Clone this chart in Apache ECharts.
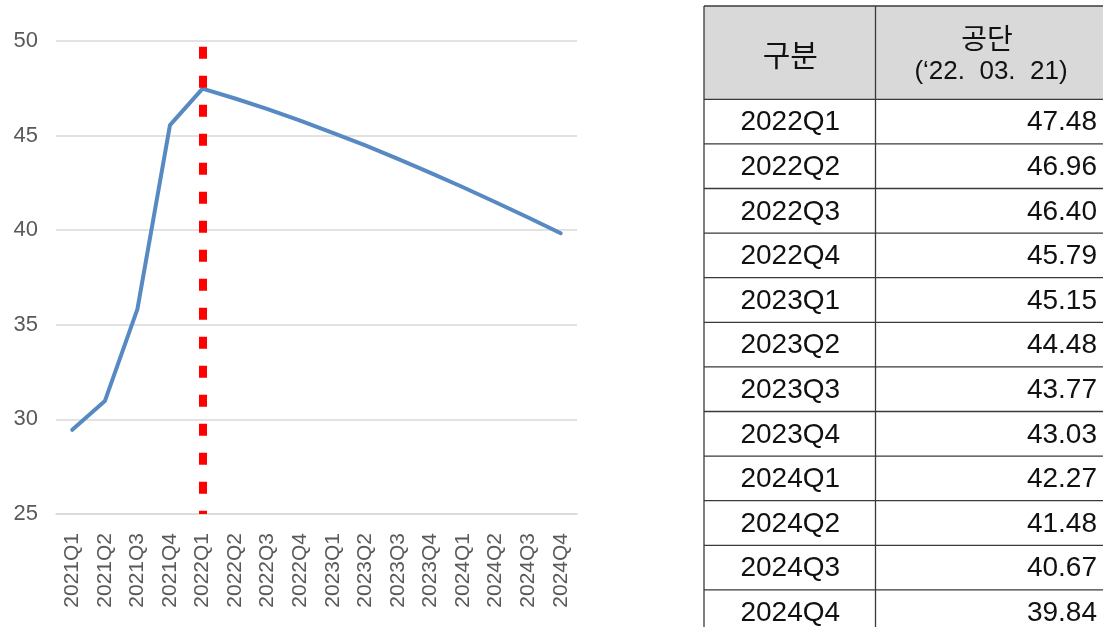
<!DOCTYPE html>
<html>
<head>
<meta charset="utf-8">
<script src="https://cdn.jsdelivr.net/npm/echarts@6/dist/echarts.min.js"></script>
<style>
  html, body { margin: 0; padding: 0; background: #ffffff; }
  #chart { width: 1103px; height: 627px; }
</style>
</head>
<body>
<div id="chart"></div>
<script>
// Quarterly index: actual values for 2021, projection from 2022Q1
const quarters = ['2021Q1','2021Q2','2021Q3','2021Q4','2022Q1','2022Q2','2022Q3','2022Q4',
                  '2023Q1','2023Q2','2023Q3','2023Q4','2024Q1','2024Q2','2024Q3','2024Q4'];
const values = [29.45, 30.97, 35.83, 45.55, 47.48, 46.96, 46.40, 45.79,
                45.15, 44.48, 43.77, 43.03, 42.27, 41.48, 40.67, 39.84];
const yTicks = { min: 25, max: 50, step: 5 };

// Start of the projection period, marked with a dashed line
const markerQuarter = '2022Q1';
const markerTop = 49.7;

// Table: projection rows
const tableHeader = ['구분', '공단', '(‘22.  03.  21)'];
const tableQuarters = ['2022Q1','2022Q2','2022Q3','2022Q4','2023Q1','2023Q2',
                       '2023Q3','2023Q4','2024Q1','2024Q2','2024Q3','2024Q4'];
const tableValues = ['47.48','46.96','46.40','45.79','45.15','44.48',
                     '43.77','43.03','42.27','41.48','40.67','39.84'];

// ---- table layout ----
const T = { left: 704, split: 875.5, right: 1104, top: 6, headBottom: 99.3, rowH: 44.6 };
const lineColor = '#3a3a3a';
const tableGraphics = [];

// header background
tableGraphics.push({
  type: 'rect', silent: true,
  shape: { x: T.left, y: T.top, width: T.right - T.left, height: T.headBottom - T.top },
  style: { fill: '#d9d9d9' }
});
const nRows = tableQuarters.length;
const bottom = T.headBottom + nRows * T.rowH;
// horizontal rules
const hLines = [T.top, T.headBottom];
for (let i = 1; i <= nRows; i++) hLines.push(T.headBottom + i * T.rowH);
hLines.forEach(function (y) {
  tableGraphics.push({
    type: 'line', silent: true,
    shape: { x1: T.left, y1: y, x2: T.right, y2: y },
    style: { stroke: lineColor, lineWidth: 1.3 }
  });
});
// vertical rules
[T.left, T.split].forEach(function (x) {
  tableGraphics.push({
    type: 'line', silent: true,
    shape: { x1: x, y1: T.top, x2: x, y2: bottom },
    style: { stroke: lineColor, lineWidth: 1.3 }
  });
});
// header texts
const leftMid = (T.left + T.split) / 2 + 0.5;
tableGraphics.push({
  type: 'text', silent: true, x: leftMid, y: 55,
  style: { text: tableHeader[0], fill: '#111', font: '30px "Noto Sans CJK KR"', align: 'center', verticalAlign: 'middle' }
});
tableGraphics.push({
  type: 'text', silent: true, x: 987, y: 38,
  style: { text: tableHeader[1], fill: '#111', font: '28px "Noto Sans CJK KR"', align: 'center', verticalAlign: 'middle' }
});
tableGraphics.push({
  type: 'text', silent: true, x: 991, y: 72,
  style: { text: tableHeader[2], fill: '#111', font: '26px "Liberation Sans"', align: 'center', verticalAlign: 'middle' }
});
// body rows
for (let i = 0; i < nRows; i++) {
  const cy = T.headBottom + (i + 0.5) * T.rowH + 1;
  tableGraphics.push({
    type: 'text', silent: true, x: leftMid, y: cy,
    style: { text: tableQuarters[i], fill: '#111', font: '28px "Liberation Sans"', align: 'center', verticalAlign: 'middle' }
  });
  tableGraphics.push({
    type: 'text', silent: true, x: 1097, y: cy,
    style: { text: tableValues[i], fill: '#111', font: '28px "Liberation Sans"', align: 'right', verticalAlign: 'middle' }
  });
}

const chart = echarts.init(document.getElementById('chart'), null, { renderer: 'canvas' });
chart.setOption({
  backgroundColor: '#ffffff',
  animation: false,
  grid: { left: 56, right: 526, top: 41, bottom: 113 },
  xAxis: {
    type: 'category',
    data: quarters,
    boundaryGap: true,
    axisLine: { show: true, lineStyle: { color: '#d9d9d9', width: 1.5 } },
    axisTick: { show: false },
    axisLabel: {
      rotate: 90, margin: 19, interval: 0,
      color: '#595959', fontFamily: 'Liberation Sans', fontSize: 21
    },
    splitLine: { show: false }
  },
  yAxis: {
    type: 'value',
    min: yTicks.min, max: yTicks.max, interval: yTicks.step,
    axisLine: { show: false },
    axisTick: { show: false },
    axisLabel: {
      margin: 18, color: '#595959',
      fontFamily: '"Liberation Sans Narrow", "Liberation Sans", sans-serif', fontSize: 22
    },
    splitLine: { show: true, lineStyle: { color: '#d9d9d9', width: 1.5 } }
  },
  series: [{
    type: 'line',
    data: values,
    symbol: 'none',
    smooth: false,
    lineStyle: { color: '#5789c2', width: 4, cap: 'round', join: 'round' },
    markLine: {
      silent: true,
      symbol: ['none', 'none'],
      label: { show: false },
      lineStyle: { color: '#ff0000', width: 8, type: [12, 17], cap: 'butt' },
      data: [[
        { coord: [markerQuarter, markerTop] },
        { coord: [markerQuarter, yTicks.min] }
      ]]
    },
    z: 3
  }],
  graphic: tableGraphics
});
</script>
</body>
</html>
